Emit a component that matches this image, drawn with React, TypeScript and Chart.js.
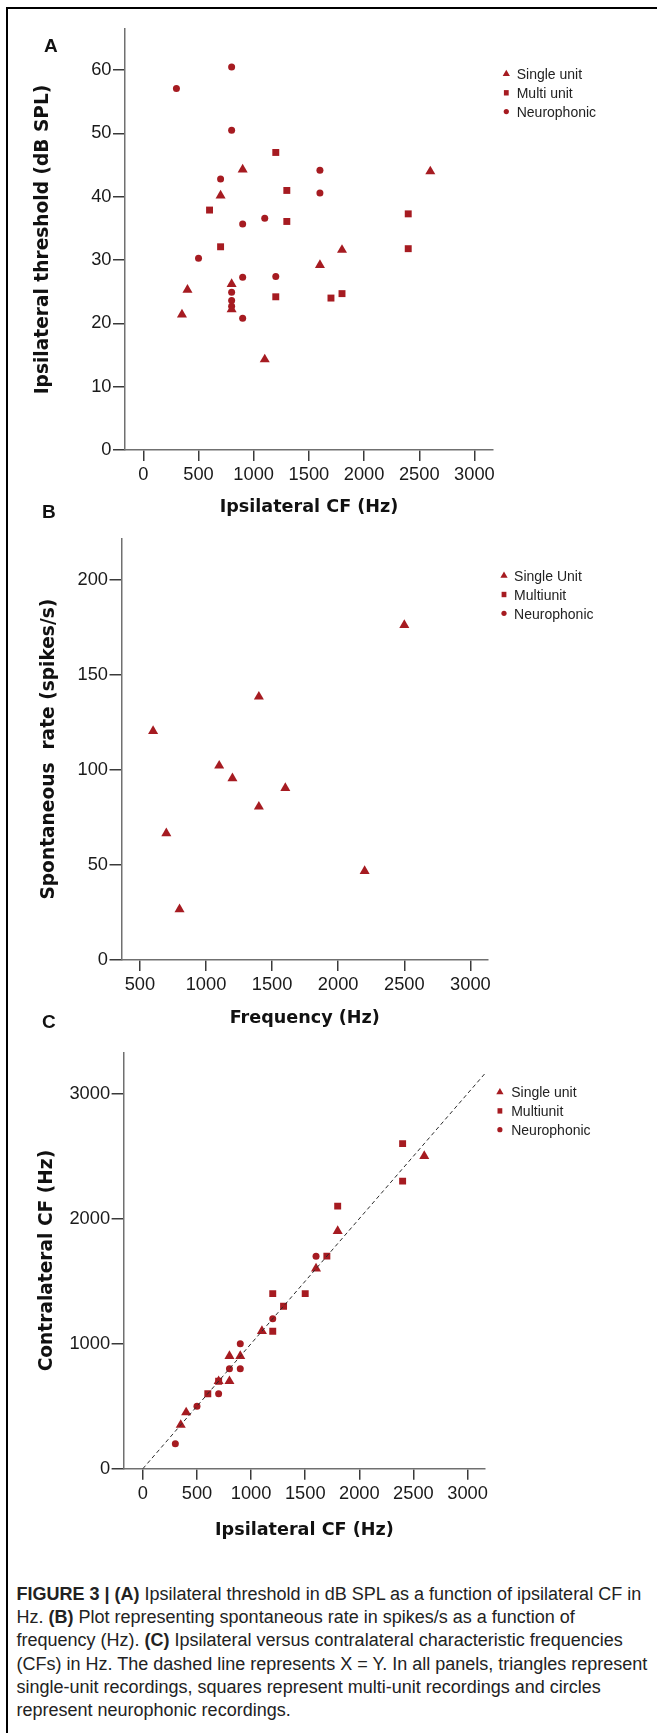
import React, { useEffect, useRef } from "react";
import { Chart, registerables } from "chart.js";

Chart.register(...registerables);

// ---------------- Panel A: ipsilateral threshold vs ipsilateral CF ----------------
const aSingleCF = [900, 2600, 700, 1800, 1600, 400, 800, 800, 350, 1100];
const aSingleThr = [44.3, 44.0, 40.2, 31.6, 29.2, 25.3, 26.2, 22.2, 21.4, 14.3];
const aMultiCF = [1200, 1300, 600, 2400, 1300, 700, 2400, 1200, 1700, 1800];
const aMultiThr = [47.0, 41.0, 37.9, 37.3, 36.1, 32.1, 31.8, 24.2, 24.0, 24.7];
const aNeuroCF = [800, 300, 800, 1600, 700, 1600, 900, 1100, 500, 900, 1200, 800, 800, 800, 900];
const aNeuroThr = [60.5, 57.1, 50.5, 44.2, 42.8, 40.6, 35.7, 36.6, 30.3, 27.3, 27.4, 24.9, 23.6, 22.7, 20.8];
const aXTicks = [0, 500, 1000, 1500, 2000, 2500, 3000];
const aYTicks = [0, 10, 20, 30, 40, 50, 60];
const aLegend = ["Single unit", "Multi unit", "Neurophonic"];
const aXTitle = "Ipsilateral CF (Hz)";
const aYTitle = "Ipsilateral threshold (dB SPL)";

// ---------------- Panel B: spontaneous rate vs frequency ----------------
const bSingleFreq = [600, 700, 800, 1100, 1200, 1400, 1400, 1600, 2200, 2500];
const bSingleRate = [120.5, 66.7, 26.7, 102.3, 95.6, 138.6, 80.7, 90.5, 46.8, 176.3];
const bMultiFreq: number[] = [];
const bMultiRate: number[] = [];
const bNeuroFreq: number[] = [];
const bNeuroRate: number[] = [];
const bXTicks = [500, 1000, 1500, 2000, 2500, 3000];
const bYTicks = [0, 50, 100, 150, 200];
const bLegend = ["Single Unit", "Multiunit", "Neurophonic"];
const bXTitle = "Frequency (Hz)";
const bYTitle = "Spontaneous  rate (spikes/s)";

// ---------------- Panel C: contralateral vs ipsilateral CF ----------------
const cSingleIpsi = [2600, 1800, 1600, 1100, 800, 900, 700, 800, 400, 350];
const cSingleContra = [2500, 1900, 1600, 1100, 900, 900, 700, 700, 450, 350];
const cMultiIpsi = [2400, 2400, 1800, 1700, 1200, 1500, 1300, 1200, 600, 700];
const cMultiContra = [2600, 2300, 2100, 1700, 1400, 1400, 1300, 1100, 600, 700];
const cNeuroIpsi = [1600, 1200, 900, 800, 900, 700, 500, 300];
const cNeuroContra = [1700, 1200, 1000, 800, 800, 600, 500, 200];
const cIdentity = [0, 3160];
const cXTicks = [0, 500, 1000, 1500, 2000, 2500, 3000];
const cYTicks = [0, 1000, 2000, 3000];
const cLegend = ["Single unit", "Multiunit", "Neurophonic"];
const cXTitle = "Ipsilateral CF (Hz)";
const cYTitle = "Contralateral CF (Hz)";

const captionLines = [
  [["FIGURE 3 | (A)", true], [" Ipsilateral threshold in dB SPL as a function of ipsilateral CF in", false]],
  [["Hz. ", false], ["(B)", true], [" Plot representing spontaneous rate in spikes/s as a function of", false]],
  [["frequency (Hz). ", false], ["(C)", true], [" Ipsilateral versus contralateral characteristic frequencies", false]],
  [["(CFs) in Hz. The dashed line represents X = Y. In all panels, triangles represent", false]],
  [["single-unit recordings, squares represent multi-unit recordings and circles", false]],
  [["represent neurophonic recordings.", false]],
] as [string, boolean][][];

// ---------------- styles ----------------
const MARK_RED = "#a61b21";
const TICK_FONT = "'Liberation Sans', Arial, Helvetica, sans-serif";
const TITLE_FONT = "'DejaVu Sans', Verdana, sans-serif";
const AXIS_COLOR = "#707070";
const TICK_COLOR = "#3a3a3a";
const STYLES = ["triangle", "rect", "circle"];
const RADIUS: Record<string, number> = { triangle: 5.8, rect: 4.9, circle: 3.5 };

type Series = { x: number[]; y: number[] };
type Spec = {
  top: number; height: number;
  xMin: number; xMax: number; yMax: number;
  xTicks: number[]; yTicks: number[];
  xTitle: string; yTitle: string;
  series: Series[]; legend: string[]; identity?: number[];
  padLeft: number; padTop: number; padRight: number;
  yWidth: number; xHeight: number; yTitlePad: number; xTitlePad: number;
  legMarkX: number; legTextX: number; legY: number; legDy: number;
};

const X_TITLE_SIZE = 17.6;
const Y_TITLE_SIZE = 18.6;
const TICK_SIZE = 18.3;

const specs: Spec[] = [
  {
    top: 0, height: 525, xMin: -166, xMax: 3168, yMax: 66.5,
    xTicks: aXTicks, yTicks: aYTicks, xTitle: aXTitle, yTitle: aYTitle,
    series: [{ x: aSingleCF, y: aSingleThr }, { x: aMultiCF, y: aMultiThr }, { x: aNeuroCF, y: aNeuroThr }],
    legend: aLegend,
    padLeft: 20, padTop: 29, padRight: 164, yWidth: 105, xHeight: 75, yTitlePad: 12.3, xTitlePad: 7,
    legMarkX: 506.3, legTextX: 516.7, legY: 75.5, legDy: 18.8,
  },
  {
    top: 525, height: 515, xMin: 361, xMax: 3133, yMax: 222,
    xTicks: bXTicks, yTicks: bYTicks, xTitle: bXTitle, yTitle: bYTitle,
    series: [{ x: bSingleFreq, y: bSingleRate }, { x: bMultiFreq, y: bMultiRate }, { x: bNeuroFreq, y: bNeuroRate }],
    legend: bLegend,
    padLeft: 20, padTop: 13.3, padRight: 169, yWidth: 101.5, xHeight: 80, yTitlePad: 17.8, xTitlePad: 10.9,
    legMarkX: 504, legTextX: 514.1, legY: 52.2, legDy: 18.8,
  },
  {
    top: 1040, height: 505, xMin: -178, xMax: 3163, yMax: 3329,
    xTicks: cXTicks, yTicks: cYTicks, xTitle: cXTitle, yTitle: cYTitle,
    series: [{ x: cSingleIpsi, y: cSingleContra }, { x: cMultiIpsi, y: cMultiContra }, { x: cNeuroIpsi, y: cNeuroContra }],
    legend: cLegend, identity: cIdentity,
    padLeft: 20, padTop: 9.3, padRight: 171.8, yWidth: 103.6, xHeight: 76.3, yTitlePad: 16.3, xTitlePad: 4.5,
    legMarkX: 499.9, legTextX: 511.2, legY: 53.6, legDy: 18.8,
  },
];

function drawMarker(ctx: CanvasRenderingContext2D, style: string, x: number, y: number) {
  ctx.beginPath();
  if (style === "triangle") {
    const r = 4.2;
    ctx.moveTo(x, y - r);
    ctx.lineTo(x + r * 0.866, y + r / 2);
    ctx.lineTo(x - r * 0.866, y + r / 2);
    ctx.closePath();
  } else if (style === "rect") {
    ctx.rect(x - 2.4, y - 2.7, 4.8, 5.4);
  } else {
    ctx.arc(x, y, 2.6, 0, Math.PI * 2);
  }
  ctx.fill();
}

function makeLegendPlugin(spec: Spec) {
  return {
    id: "sideLegend",
    afterDraw(chart: any) {
      const ctx: CanvasRenderingContext2D = chart.ctx;
      ctx.save();
      spec.legend.forEach((label, i) => {
        const y = spec.legY + i * spec.legDy;
        ctx.fillStyle = MARK_RED;
        drawMarker(ctx, STYLES[i], spec.legMarkX, y - 1.5);
        ctx.fillStyle = "#222";
        ctx.font = `14px ${TICK_FONT}`;
        ctx.textBaseline = "middle";
        ctx.textAlign = "left";
        ctx.fillText(label, spec.legTextX, y);
      });
      ctx.restore();
    },
  };
}

function Panel({ spec }: { spec: Spec }) {
  const ref = useRef<HTMLCanvasElement>(null);
  useEffect(() => {
    const datasets: any[] = [];
    if (spec.identity) {
      datasets.push({
        data: spec.identity.map((v) => ({ x: v, y: v })),
        showLine: true, pointRadius: 0, borderColor: "#2b2b2b", borderWidth: 1,
        borderDash: [4, 3], fill: false,
      });
    }
    spec.series.forEach((s, i) => {
      datasets.push({
        data: s.x.map((x, j) => ({ x, y: s.y[j] })),
        pointStyle: STYLES[i], pointRadius: RADIUS[STYLES[i]],
        backgroundColor: MARK_RED, borderColor: MARK_RED, borderWidth: 0, showLine: false,
      });
    });
    const tickFont = { family: TICK_FONT, size: TICK_SIZE };
    const chart = new Chart(ref.current as HTMLCanvasElement, {
      type: "scatter",
      data: { datasets },
      options: {
        animation: false,
        responsive: false,
        maintainAspectRatio: false,
        layout: { padding: { left: spec.padLeft, top: spec.padTop, right: spec.padRight, bottom: 0 } },
        plugins: { legend: { display: false }, tooltip: { enabled: false } },
        scales: {
          x: {
            type: "linear", min: spec.xMin, max: spec.xMax,
            afterBuildTicks: (s: any) => { s.ticks = spec.xTicks.map((v) => ({ value: v })); },
            afterFit: (s: any) => { s.height = spec.xHeight; },
            grid: { display: true, drawOnChartArea: false, drawTicks: true, tickLength: 11, color: TICK_COLOR, lineWidth: 1.5 },
            border: { display: true, color: AXIS_COLOR, width: 1.5 },
            ticks: { color: "#1a1a1a", font: tickFont, padding: 3, maxRotation: 0, autoSkip: false, callback: (v: any) => String(v) },
            title: { display: true, text: spec.xTitle, color: "#111", font: { family: TITLE_FONT, size: X_TITLE_SIZE, weight: "bold" }, padding: { top: 0, bottom: spec.xTitlePad } },
          },
          y: {
            type: "linear", min: 0, max: spec.yMax,
            afterBuildTicks: (s: any) => { s.ticks = spec.yTicks.map((v) => ({ value: v })); },
            afterFit: (s: any) => { s.width = spec.yWidth; },
            grid: { display: true, drawOnChartArea: false, drawTicks: true, tickLength: 12, color: TICK_COLOR, lineWidth: 1.5 },
            border: { display: true, color: AXIS_COLOR, width: 1.5 },
            ticks: { color: "#1a1a1a", font: tickFont, padding: 1.5, autoSkip: false, callback: (v: any) => String(v) },
            title: { display: true, text: spec.yTitle, color: "#111", font: { family: TITLE_FONT, size: Y_TITLE_SIZE, weight: "bold" }, padding: { top: spec.yTitlePad, bottom: 0 } },
          },
        },
      } as any,
      plugins: [makeLegendPlugin(spec)],
    });
    return () => chart.destroy();
  }, [spec]);
  return (
    <canvas
      ref={ref}
      width={657}
      height={spec.height}
      style={{ position: "absolute", left: 0, top: spec.top, width: 657, height: spec.height }}
    />
  );
}

const letterStyle: React.CSSProperties = {
  position: "absolute",
  fontFamily: TICK_FONT,
  fontWeight: "bold",
  fontSize: 19,
  lineHeight: "19px",
  color: "#111",
};

export default function App() {
  return (
    <div style={{ position: "absolute", left: 0, top: 0, width: 657, height: 1733, overflow: "hidden", background: "#fff" }}>
      <div style={{ position: "absolute", left: 6, top: 7, width: 700, height: 1800, border: "2.5px solid #000", boxSizing: "border-box" }} />
      {specs.map((s, i) => <Panel key={i} spec={s} />)}
      <div style={{ ...letterStyle, left: 44, top: 35.7 }}>A</div>
      <div style={{ ...letterStyle, left: 42, top: 501.7 }}>B</div>
      <div style={{ ...letterStyle, left: 42, top: 1012.4 }}>C</div>
      <div style={{ position: "absolute", left: 16.5, top: 1583, fontFamily: TICK_FONT, fontSize: 18, lineHeight: "23.2px", color: "#222" }}>
        {captionLines.map((line, i) => (
          <div key={i} style={{ whiteSpace: "nowrap" }}>
            {line.map(([t, b], j) => (
              <span key={j} style={{ fontWeight: b ? "bold" : "normal" }}>{t}</span>
            ))}
          </div>
        ))}
      </div>
    </div>
  );
}
